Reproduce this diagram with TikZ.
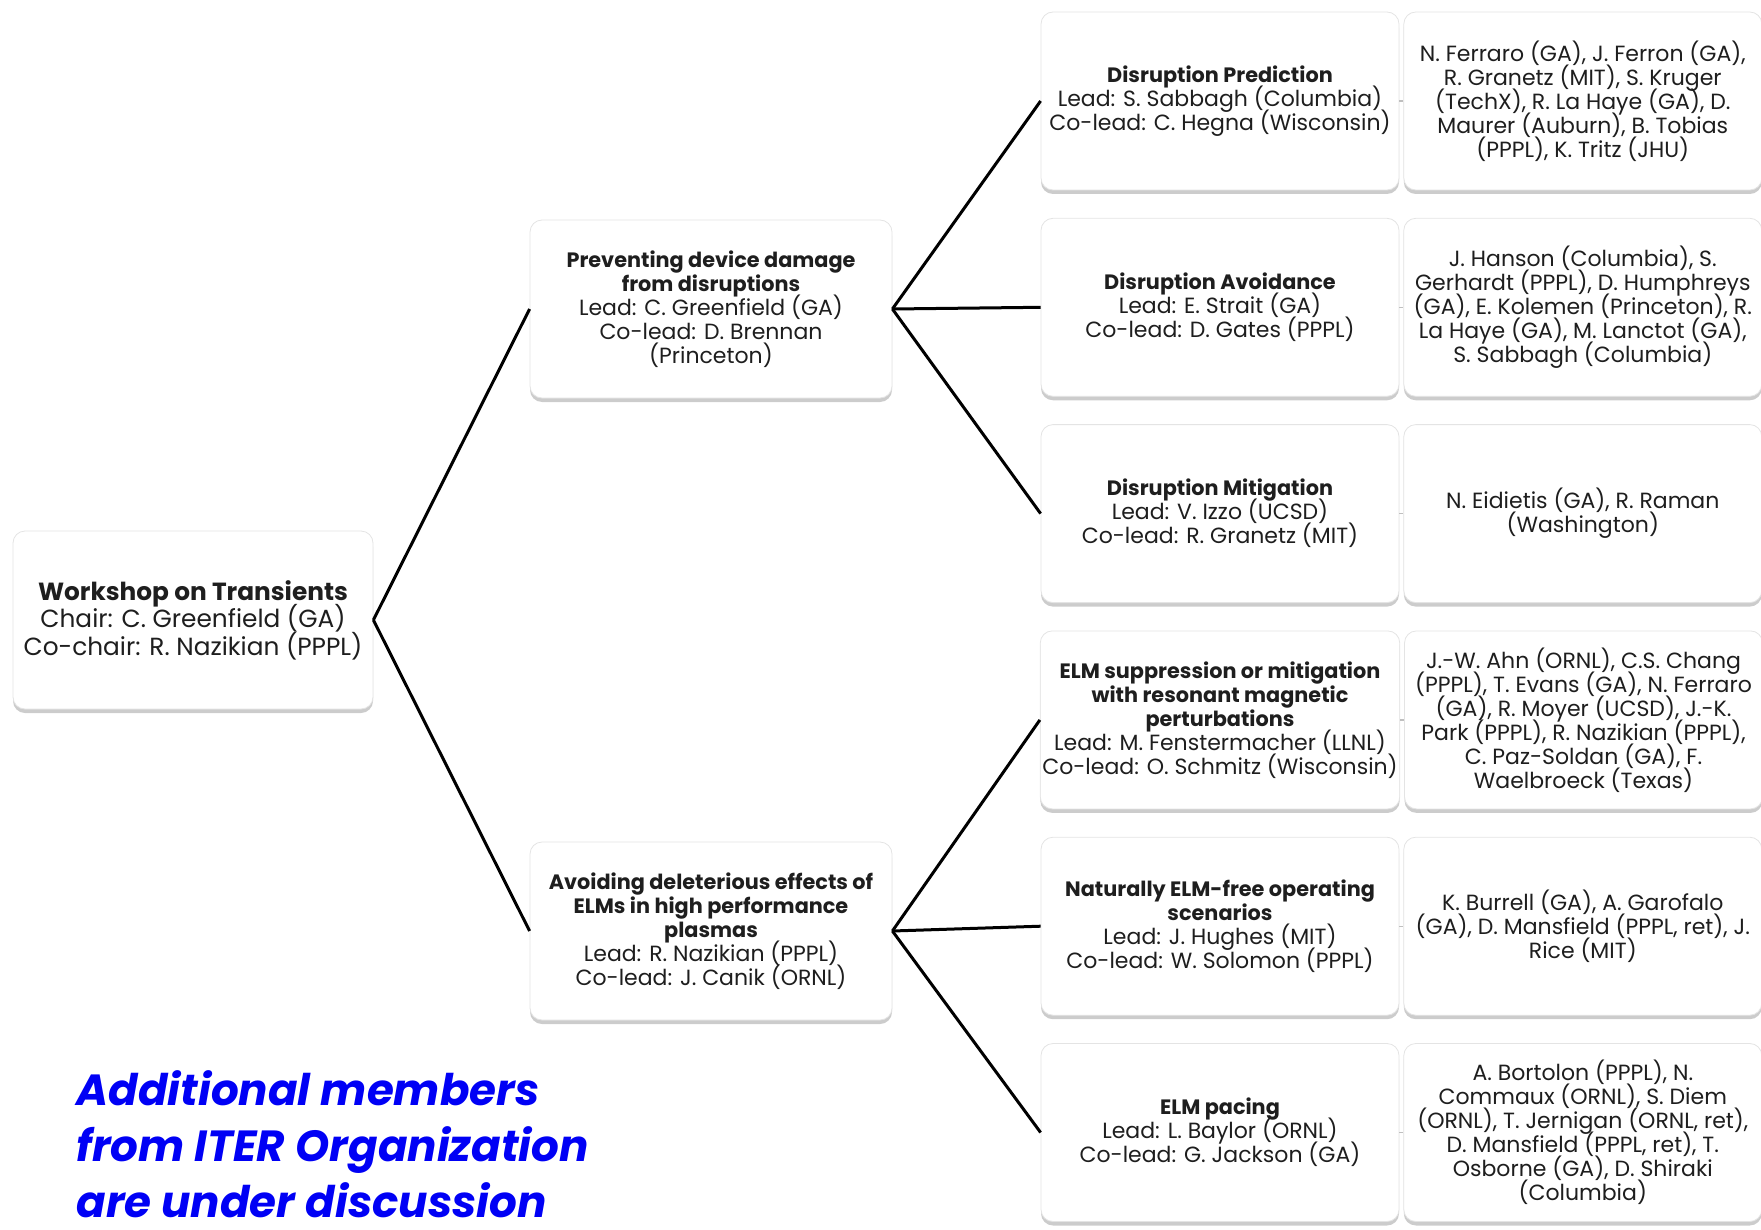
\documentclass[tikz,border=0pt]{standalone}
\usepackage{fontspec}
\setmainfont{Poppins}
\usetikzlibrary{positioning, shadows}
\definecolor{boxedge}{RGB}{228,228,228}
\definecolor{inkgray}{RGB}{30,30,30}
\definecolor{noteblue}{RGB}{0,0,245}
\newcommand{\hd}[1]{{\fontsize{10.4}{12}\selectfont\bfseries #1}}
\newcommand{\tightlines}{\lineskiplimit-20pt\relax}

\begin{document}
\begin{tikzpicture}[x=0.5pt, y=-0.5pt,
  box/.style={draw=boxedge, rounded corners=6pt, fill=white, minimum width=179pt, minimum height=89pt, inner sep=1pt, align=center, text=inkgray, font=\fontsize{11}{12}\selectfont\tightlines, drop shadow={shadow xshift=0pt, shadow yshift=-2pt, opacity=0.4}},
  link/.style={line width=1.5pt, black},
  gap/.style={line width=0.6pt, gray!50},
  note/.style={anchor=north west, inner sep=0pt, align=left, text=noteblue, font=\fontsize{21.8}{28}\selectfont\bfseries\itshape\tightlines}]
  \useasboundingbox (0,0) rectangle (1761,1230);
  % root and the two branches
  \node[box, minimum width=180pt, font=\fontsize{12.4}{13.75}\selectfont\tightlines] (root) at (193,620) {\textbf{Workshop on Transients}\\Chair: C. Greenfield (GA)\\Co-chair: R. Nazikian (PPPL)};
  \node[box, minimum width=181pt] (disrupt) at (711,309) {\hd{Preventing device damage}\\\hd{from disruptions}\\Lead: C. Greenfield (GA)\\Co-lead: D. Brennan\\(Princeton)};
  \node[box, minimum width=181pt] (elms) at (711,931) {\hd{Avoiding deleterious effects of}\\\hd{ELMs in high performance}\\\hd{plasmas}\\Lead: R. Nazikian (PPPL)\\Co-lead: J. Canik (ORNL)};
  % topics
  \node[box] (predict) at (1220,101) {\hd{Disruption Prediction}\\Lead: S. Sabbagh (Columbia)\\Co-lead: C. Hegna (Wisconsin)};
  \node[box, below=13.75pt of predict] (avoid) {\hd{Disruption Avoidance}\\Lead: E. Strait (GA)\\Co-lead: D. Gates (PPPL)};
  \node[box, below=13.75pt of avoid] (mitig) {\hd{Disruption Mitigation}\\Lead: V. Izzo (UCSD)\\Co-lead: R. Granetz (MIT)};
  \node[box, below=13.75pt of mitig] (rmp) {\hd{ELM suppression or mitigation}\\\hd{with resonant magnetic}\\\hd{perturbations}\\Lead: M. Fenstermacher (LLNL)\\Co-lead: O. Schmitz (Wisconsin)};
  \node[box, below=13.75pt of rmp] (elmfree) {\hd{Naturally ELM-free operating}\\\hd{scenarios}\\Lead: J. Hughes (MIT)\\Co-lead: W. Solomon (PPPL)};
  \node[box, below=13.75pt of elmfree] (pacing) {\hd{ELM pacing}\\Lead: L. Baylor (ORNL)\\Co-lead: G. Jackson (GA)};
  % members
  \node[box, right=2pt of predict] (predictm) {N. Ferraro (GA), J. Ferron (GA),\\R. Granetz (MIT), S. Kruger\\(TechX), R. La Haye (GA), D.\\Maurer (Auburn), B. Tobias\\(PPPL), K. Tritz (JHU)};
  \node[box, right=2pt of avoid] (avoidm) {J. Hanson (Columbia), S.\\Gerhardt (PPPL), D. Humphreys\\(GA), E. Kolemen (Princeton), R.\\La Haye (GA), M. Lanctot (GA),\\S. Sabbagh (Columbia)};
  \node[box, right=2pt of mitig] (mitigm) {N. Eidietis (GA), R. Raman\\(Washington)};
  \node[box, right=2pt of rmp] (rmpm) {J.-W. Ahn (ORNL), C.S. Chang\\(PPPL), T. Evans (GA), N. Ferraro\\(GA), R. Moyer (UCSD), J.-K.\\Park (PPPL), R. Nazikian (PPPL),\\C. Paz-Soldan (GA), F.\\Waelbroeck (Texas)};
  \node[box, right=2pt of elmfree] (elmfreem) {K. Burrell (GA), A. Garofalo\\(GA), D. Mansfield (PPPL, ret), J.\\Rice (MIT)};
  \node[box, right=2pt of pacing] (pacingm) {A. Bortolon (PPPL), N.\\Commaux (ORNL), S. Diem\\(ORNL), T. Jernigan (ORNL, ret),\\D. Mansfield (PPPL, ret), T.\\Osborne (GA), D. Shiraki\\(Columbia)};
  % connectors
  \draw[link] (root.east) -- (disrupt.west);
  \draw[link] (root.east) -- (elms.west);
  \draw[link] (disrupt.east) -- (predict.west);
  \draw[link] (disrupt.east) -- (avoid.west);
  \draw[link] (disrupt.east) -- (mitig.west);
  \draw[link] (elms.east) -- (rmp.west);
  \draw[link] (elms.east) -- (elmfree.west);
  \draw[link] (elms.east) -- (pacing.west);
  \foreach \t in {predict, avoid, mitig, rmp, elmfree, pacing}
    \draw[gap] (\t.east) -- (\t m.west);
  \node[note] (iter) at (76,1070) {Additional members\\from ITER Organization\\are under discussion};
\end{tikzpicture}
\end{document}
